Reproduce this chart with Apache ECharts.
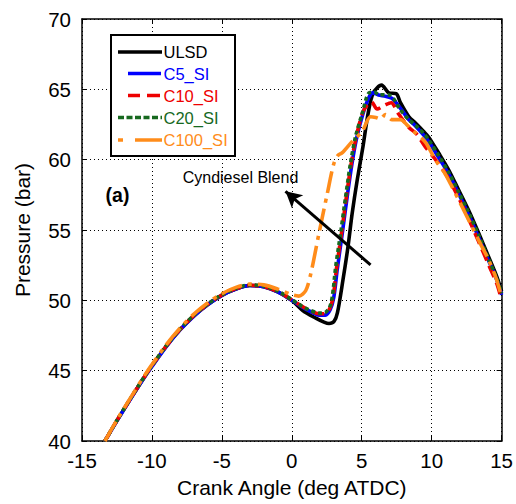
<!DOCTYPE html>
<html>
<head>
<meta charset="utf-8">
<script src="https://cdn.jsdelivr.net/npm/echarts@6/dist/echarts.min.js"></script>
<style>
html,body{margin:0;padding:0;background:#fff;}
#c{width:516px;height:504px;}
</style>
</head>
<body>
<div id="c"></div>
<script>
// Tick values
var xTicks = [-15, -10, -5, 0, 5, 10, 15];
var yTicks = [40, 45, 50, 55, 60, 65, 70];

var seriesNames = ['ULSD', 'C5_SI', 'C10_SI', 'C20_SI', 'C100_SI'];

// [crank angle (deg ATDC), pressure (bar)]
var ulsd = [[-13.36,40.0],[-12.5,41.45],[-11.5,43.05],[-10.5,44.6],[-10.0,45.33],[-9.0,46.7],[-8.0,47.9],[-7.0,48.9],[-6.0,49.7],[-5.0,50.35],[-4.0,50.8],[-3.0,51.05],[-2.0,50.97],[-1.0,50.6],[0.0,50.0],[0.76,49.3],[1.72,48.73],[2.3,48.45],[2.66,48.35],[3.02,48.5],[3.26,49.1],[3.66,51.46],[4.02,53.83],[4.32,56.2],[4.68,58.57],[5.09,60.94],[5.46,63.31],[5.82,64.74],[6.42,65.3],[6.94,64.75],[7.46,64.7],[7.77,64.05],[8.36,63.07],[8.84,62.6],[9.43,62.0],[9.79,61.6],[10.5,60.47],[11.21,59.28],[11.92,57.86],[12.64,56.4],[13.35,54.8],[14.06,53.12],[14.65,51.7],[15.0,50.65]];

var c5 = [[-13.36,40.0],[-12.5,41.43],[-11.5,43.03],[-10.5,44.58],[-10.0,45.3],[-9.0,46.68],[-8.0,47.88],[-7.0,48.88],[-6.0,49.7],[-5.0,50.35],[-4.0,50.8],[-3.0,51.05],[-2.0,50.97],[-1.0,50.6],[0.0,50.0],[0.7,49.55],[1.24,49.25],[1.95,48.95],[2.4,48.95],[2.75,49.35],[3.0,50.2],[3.25,52.2],[3.6,54.7],[3.95,57.3],[4.3,59.7],[4.65,61.6],[5.1,63.3],[5.5,64.4],[5.8,64.75],[6.2,64.6],[6.7,64.5],[7.17,64.35],[7.88,63.5],[8.36,62.85],[8.84,62.4],[9.43,61.75],[9.79,61.3],[10.5,60.15],[11.21,59.0],[11.92,57.6],[12.64,56.1],[13.35,54.5],[14.06,52.85],[14.65,51.45],[15.0,50.4]];

var c10 = [[-13.36,40.0],[-12.5,41.47],[-11.5,43.07],[-10.5,44.62],[-10.0,45.35],[-9.0,46.72],[-8.0,47.92],[-7.0,48.92],[-6.0,49.73],[-5.0,50.38],[-4.0,50.83],[-3.0,51.07],[-2.0,50.99],[-1.0,50.63],[0.0,50.03],[0.7,49.6],[1.24,49.3],[1.95,49.05],[2.4,49.05],[2.7,49.4],[2.95,50.2],[3.2,52.3],[3.55,54.75],[3.9,57.35],[4.25,59.75],[4.6,61.6],[5.05,63.3],[5.4,63.9],[5.7,64.1],[6.1,63.6],[6.6,63.85],[7.1,64.05],[7.6,63.3],[8.36,62.3],[8.9,61.85],[9.55,60.9],[10.2,60.1],[11.0,59.0],[11.9,57.35],[12.64,55.8],[13.35,54.2],[14.06,52.55],[14.65,51.2],[15.0,50.05]];

var c20 = [[-13.36,40.0],[-12.5,41.47],[-11.5,43.08],[-10.5,44.64],[-10.0,45.37],[-9.0,46.74],[-8.0,47.94],[-7.0,48.94],[-6.0,49.75],[-5.0,50.4],[-4.0,50.85],[-3.0,51.1],[-2.0,51.02],[-1.0,50.66],[0.0,50.05],[0.7,49.6],[1.24,49.32],[1.95,49.1],[2.4,49.15],[2.7,49.5],[2.9,50.3],[3.14,52.4],[3.49,54.78],[3.85,57.38],[4.2,59.76],[4.56,61.65],[5.04,63.31],[5.51,64.74],[5.9,64.8],[6.22,64.62],[6.94,64.6],[7.3,64.3],[7.65,63.7],[8.36,62.85],[8.84,62.45],[9.43,61.85],[9.79,61.4],[10.5,60.3],[11.21,59.1],[11.92,57.7],[12.64,56.25],[13.35,54.65],[14.06,52.95],[14.65,51.55],[15.0,50.5]];

var c100 = [[-13.36,40.0],[-12.5,41.5],[-11.5,43.12],[-10.5,44.7],[-10.0,45.43],[-9.0,46.82],[-8.0,48.02],[-7.0,49.02],[-6.0,49.83],[-5.0,50.47],[-4.0,50.92],[-3.0,51.15],[-2.0,51.1],[-1.0,50.8],[0.0,50.4],[0.5,50.3],[1.0,50.7],[1.36,51.9],[1.95,54.8],[2.54,57.6],[3.0,59.7],[3.3,60.3],[3.61,60.5],[4.32,61.3],[5.03,62.0],[5.63,63.05],[6.0,63.0],[6.34,62.9],[6.69,63.2],[7.17,62.85],[7.77,62.85],[8.3,62.4],[8.72,62.0],[9.55,61.25],[10.25,60.0],[10.9,59.1],[11.44,58.1],[12.2,56.6],[12.87,55.25],[13.5,54.0],[14.06,52.9],[14.6,51.6],[15.0,50.25]];

// Annotation arrow endpoints (data coords): tail -> head
var arrowTail = [5.63, 52.52];
var arrowHead = [-0.45, 57.75];

var FONT = '"Liberation Sans", Arial, Helvetica, sans-serif';
var colors = ['#000000', '#0000ff', '#ee0000', '#17691f', '#ff8c1a'];
var dashes = ['solid', 'solid', [12, 6], [4, 3], [22, 6, 4, 6]];
var datasets = [ulsd, c5, c10, c20, c100];

var chart = echarts.init(document.getElementById('c'), null, {renderer: 'svg'});

var series = datasets.map(function (d, i) {
  var s = {
    name: seriesNames[i],
    type: 'line',
    data: d,
    showSymbol: false,
    smooth: 0.3,
    lineStyle: {color: colors[i], width: 3.6, type: dashes[i], cap: 'butt'},
    z: 2 + i,
    silent: true
  };
  if (i === 0) {
    s.markLine = {
      silent: true,
      symbol: ['none', 'arrow'],
      symbolSize: [13, 16],
      label: {show: false},
      lineStyle: {color: '#000', width: 3, type: 'solid'},
      data: [[{coord: arrowTail}, {coord: arrowHead}]],
      z: 10
    };
  }
  return s;
});

// Legend drawn manually
var lgX = 111, lgY = 35, lgW = 124, lgH = 121;
var rowY = [52, 73.5, 95.5, 117.5, 140];
var legendGraphics = [{
  type: 'rect', shape: {x: lgX, y: lgY, width: lgW, height: lgH},
  style: {fill: '#fff', stroke: '#000', lineWidth: 2}, z: 100
}];
var sampleSegs = [
  [[118, 162]],
  [[128, 161]],
  [[128, 140], [147, 160]],
  [[118, 162]],
  [[118, 123], [135, 162]]
];
seriesNames.forEach(function (n, i) {
  sampleSegs[i].forEach(function (seg) {
    legendGraphics.push({
      type: 'line', shape: {x1: seg[0], y1: rowY[i], x2: seg[1], y2: rowY[i]},
      style: {stroke: colors[i], lineWidth: 3.5, lineDash: i === 3 ? [6, 2.5] : null}, z: 101
    });
  });
  legendGraphics.push({
    type: 'text', x: 163.5, y: rowY[i],
    style: {text: n, fill: colors[i], fontSize: 16.5, fontFamily: FONT, verticalAlign: 'middle', align: 'left'},
    z: 101
  });
});
legendGraphics.push({
  type: 'text', x: 117.5, y: 195,
  style: {text: '(a)', fill: '#000', fontSize: 19.5, fontWeight: 'bold', fontFamily: FONT, verticalAlign: 'middle', align: 'center'},
  z: 101
});
legendGraphics.push({
  type: 'text', x: 240.5, y: 177.5,
  style: {text: 'Cyndiesel Blend', fill: '#000', fontSize: 16, fontFamily: FONT, verticalAlign: 'middle', align: 'center'},
  z: 101
});

var labelStyle = {color: '#000', fontSize: 20.5, fontFamily: FONT};
var gridLine = {show: true, lineStyle: {color: '#000', width: 1, type: [1, 3]}};

chart.setOption({
  animation: false,
  backgroundColor: '#fff',
  grid: {left: 82, right: 12, top: 19, bottom: 63, show: false},
  xAxis: [{
    type: 'value', min: xTicks[0], max: xTicks[xTicks.length - 1], interval: 5,
    name: 'Crank Angle (deg ATDC)', nameLocation: 'middle', nameGap: 36,
    nameTextStyle: {color: '#000', fontSize: 21, fontFamily: FONT},
    axisLine: {show: true, onZero: false, lineStyle: {color: '#000', width: 1.5}},
    axisTick: {show: true, inside: true, length: 5, lineStyle: {color: '#000'}},
    axisLabel: Object.assign({margin: 9}, labelStyle),
    splitLine: gridLine
  }, {
    type: 'value', position: 'top', min: xTicks[0], max: xTicks[xTicks.length - 1], interval: 5,
    axisLine: {show: true, onZero: false, lineStyle: {color: '#000', width: 1.5}},
    axisTick: {show: true, inside: true, length: 5, lineStyle: {color: '#000'}},
    axisLabel: {show: false}, splitLine: {show: false}
  }],
  yAxis: [{
    type: 'value', min: yTicks[0], max: yTicks[yTicks.length - 1], interval: 5,
    name: 'Pressure (bar)', nameLocation: 'middle', nameGap: 49, nameRotate: 90,
    nameTextStyle: {color: '#000', fontSize: 21, fontFamily: FONT},
    axisLine: {show: true, onZero: false, lineStyle: {color: '#000', width: 1.5}},
    axisTick: {show: true, inside: true, length: 5, lineStyle: {color: '#000'}},
    axisLabel: Object.assign({margin: 11}, labelStyle),
    splitLine: gridLine
  }, {
    type: 'value', position: 'right', min: yTicks[0], max: yTicks[yTicks.length - 1], interval: 5,
    axisLine: {show: true, onZero: false, lineStyle: {color: '#000', width: 1.5}},
    axisTick: {show: true, inside: true, length: 5, lineStyle: {color: '#000'}},
    axisLabel: {show: false}, splitLine: {show: false}
  }],
  series: series,
  graphic: legendGraphics
});
</script>
</body>
</html>
